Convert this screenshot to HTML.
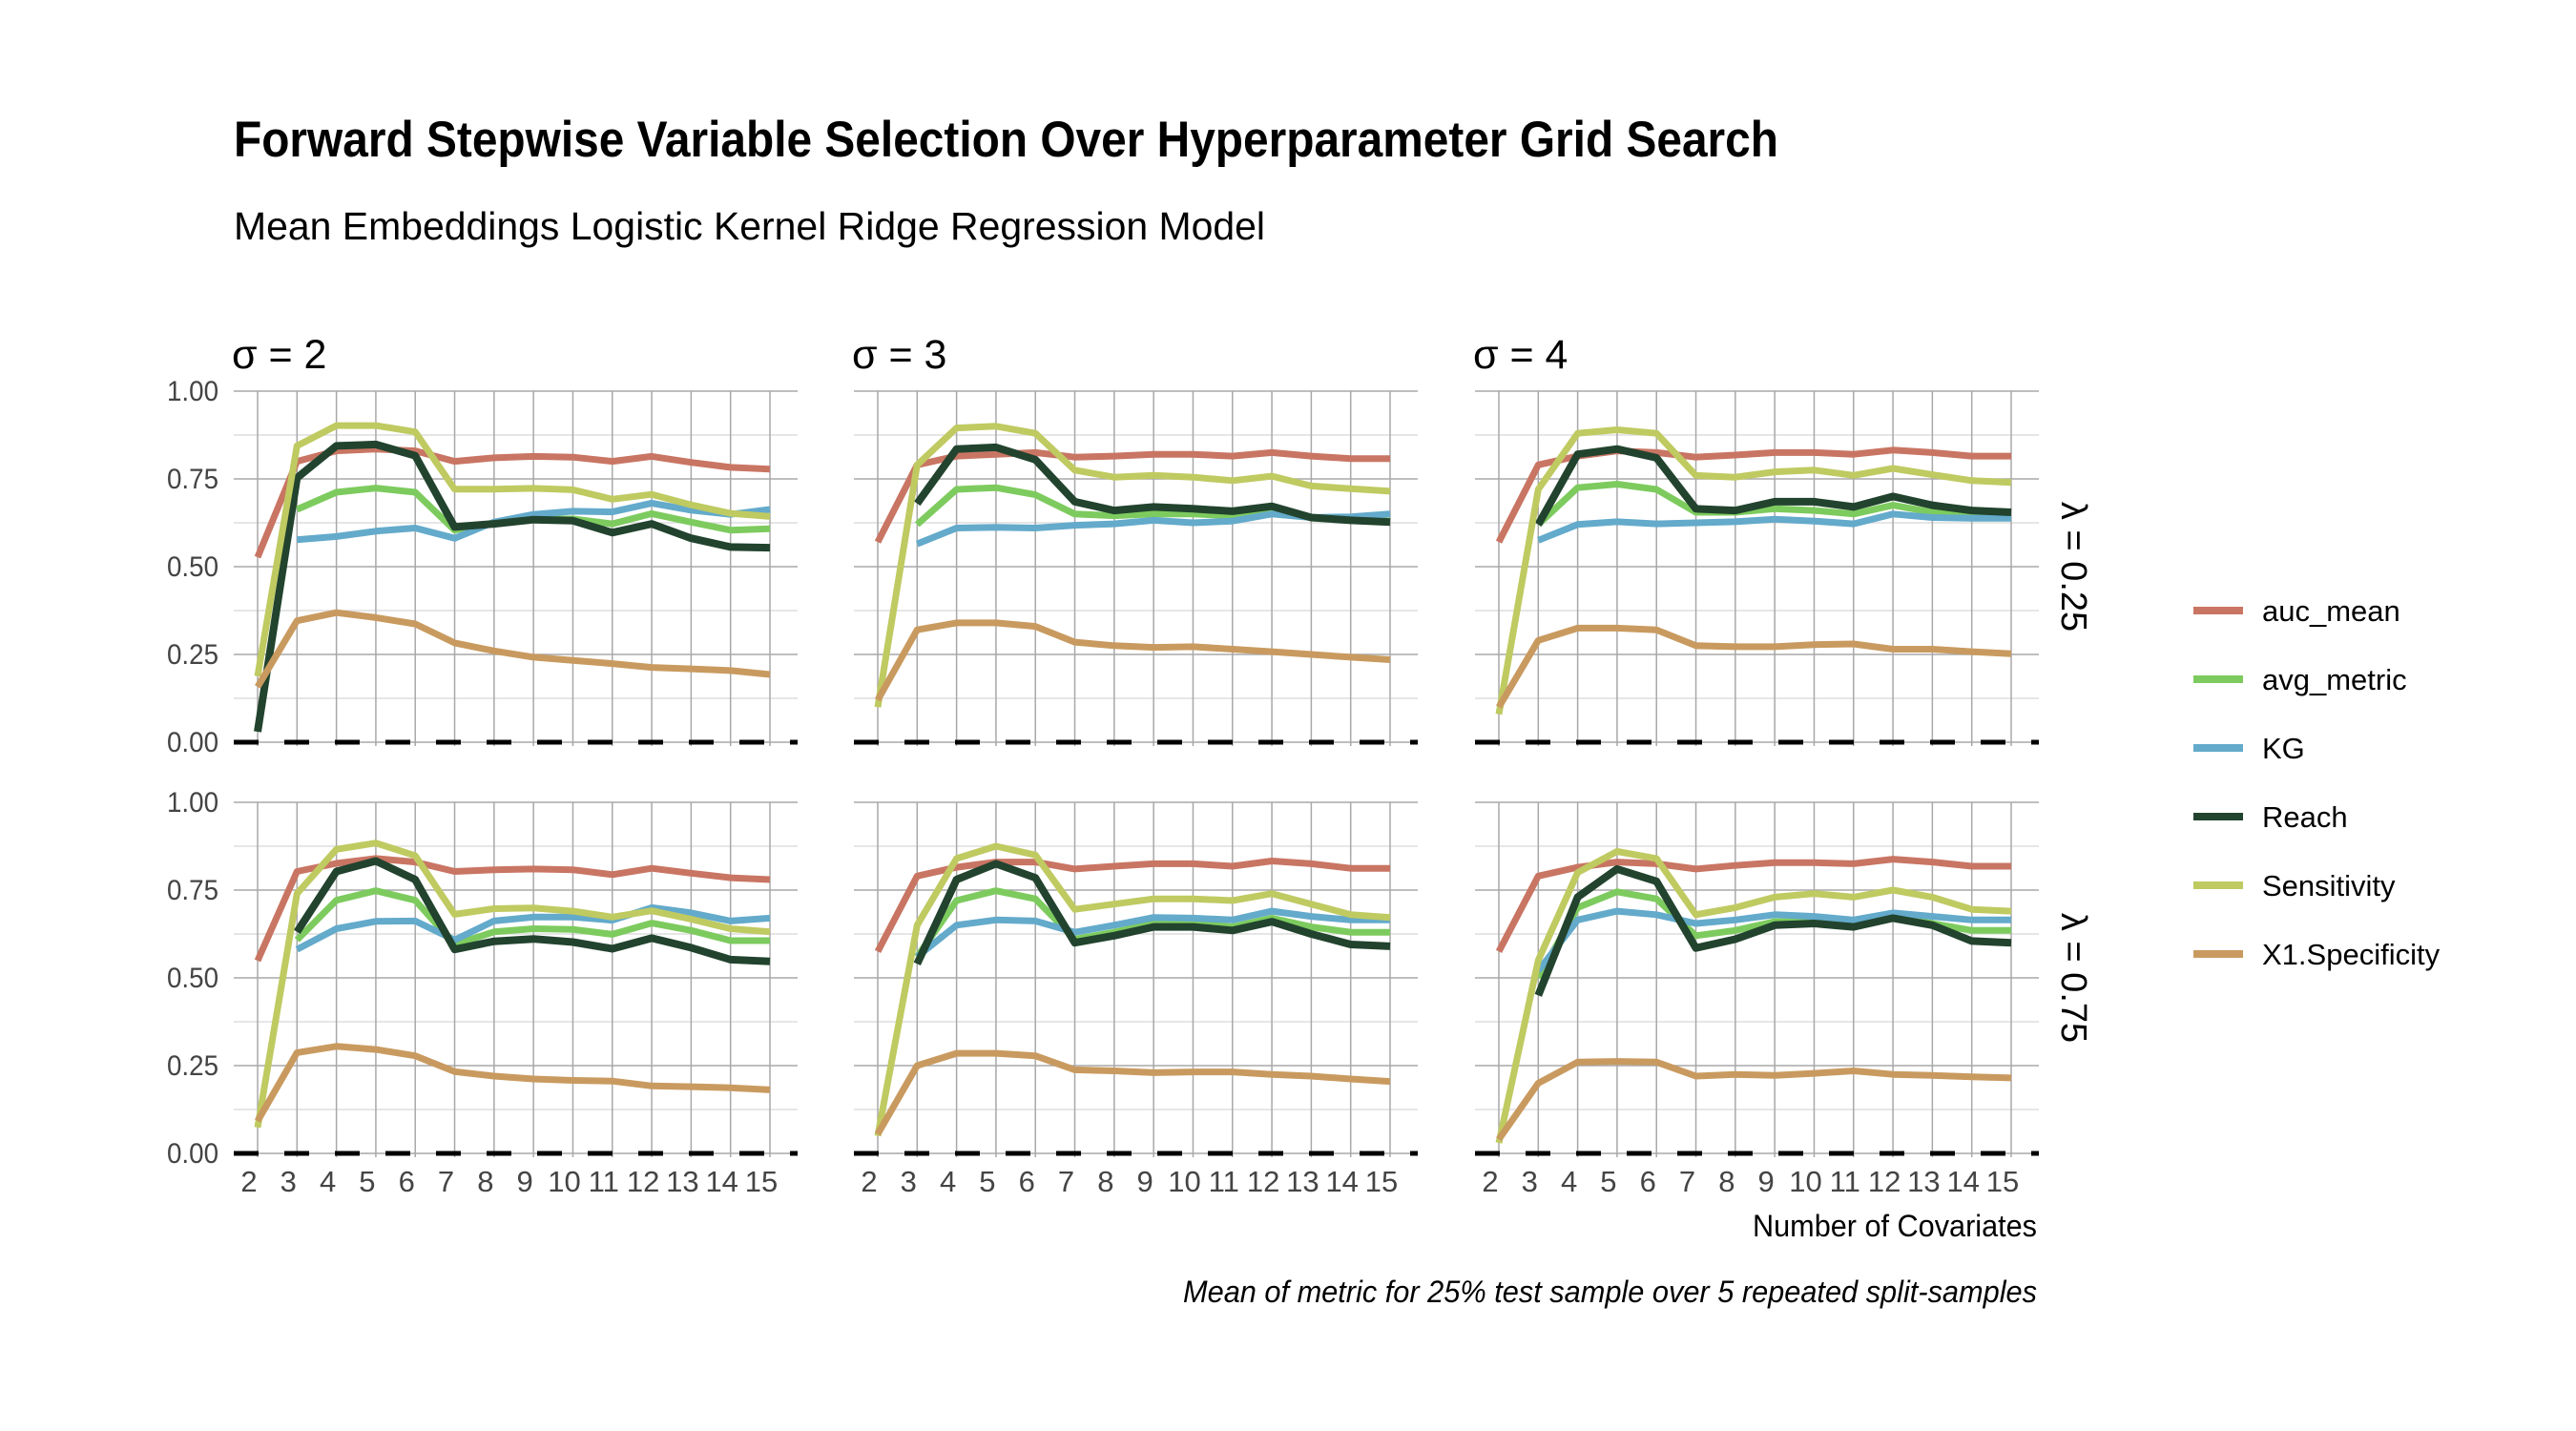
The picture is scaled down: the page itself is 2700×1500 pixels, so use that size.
<!DOCTYPE html>
<html><head><meta charset="utf-8"><style>
html,body{margin:0;padding:0;background:#fff}
svg{display:block}
text{font-family:"Liberation Sans Narrow","Liberation Sans",sans-serif}
</style></head><body>
<svg id="chart" width="2700" height="1500" viewBox="0 0 2700 1500" xmlns="http://www.w3.org/2000/svg">
<text x="245" y="164" font-size="53" font-weight="bold" fill="#000" textLength="1619" lengthAdjust="spacingAndGlyphs">Forward Stepwise Variable Selection Over Hyperparameter Grid Search</text>
<text x="245" y="251" font-size="41" fill="#000" textLength="1081" lengthAdjust="spacingAndGlyphs">Mean Embeddings Logistic Kernel Ridge Regression Model</text>
<text x="2135" y="1296" font-size="32" fill="#000" text-anchor="end" textLength="298" lengthAdjust="spacingAndGlyphs">Number of Covariates</text>
<text x="2135" y="1365" font-size="32" font-style="italic" fill="#000" text-anchor="end" textLength="895" lengthAdjust="spacingAndGlyphs">Mean of metric for 25% test sample over 5 repeated split-samples</text>
<g id="panels"></g>
<g id="legend"></g>
</svg>
<script>
const xCats = [2,3,4,5,6,7,8,9,10,11,12,13,14,15];
const yTicks = [0,0.25,0.5,0.75,1];
const yTickLabels = ["0.00","0.25","0.50","0.75","1.00"];
const seriesNames = ["auc_mean","avg_metric","KG","Reach","Sensitivity","X1.Specificity"];
const sigmaLabels = ["σ = 2","σ = 3","σ = 4"];
const lambdaLabels = ["λ = 0.25","λ = 0.75"];
const N = null;
const p1_auc  = [0.527,0.80,0.83,0.835,0.83,0.80,0.81,0.814,0.812,0.80,0.814,0.797,0.783,0.778];
const p1_avg  = [N,0.663,0.712,0.724,0.712,0.604,0.625,0.636,0.636,0.622,0.651,0.627,0.604,0.608];
const p1_kg   = [N,0.577,0.586,0.601,0.61,0.581,0.627,0.649,0.658,0.656,0.681,0.661,0.649,0.663];
const p1_reach= [0.03,0.753,0.844,0.848,0.816,0.613,0.622,0.634,0.631,0.597,0.622,0.581,0.556,0.554];
const p1_sens = [0.188,0.844,0.902,0.902,0.884,0.721,0.721,0.723,0.719,0.692,0.706,0.676,0.652,0.643];
const p1_spec = [0.158,0.346,0.369,0.355,0.337,0.283,0.26,0.242,0.233,0.224,0.213,0.209,0.204,0.193];
const p2_auc  = [0.57,0.79,0.815,0.82,0.825,0.812,0.815,0.82,0.82,0.815,0.825,0.815,0.808,0.808];
const p2_avg  = [N,0.62,0.72,0.725,0.705,0.65,0.645,0.65,0.65,0.645,0.655,0.64,0.635,0.63];
const p2_kg   = [N,0.565,0.61,0.612,0.61,0.618,0.622,0.632,0.625,0.63,0.65,0.64,0.642,0.65];
const p2_reach= [N,0.68,0.835,0.84,0.805,0.685,0.66,0.67,0.665,0.658,0.672,0.64,0.632,0.627];
const p2_sens = [0.1,0.79,0.895,0.9,0.88,0.775,0.755,0.76,0.755,0.745,0.758,0.73,0.722,0.715];
const p2_spec = [0.12,0.32,0.34,0.34,0.33,0.285,0.275,0.27,0.272,0.265,0.258,0.25,0.242,0.235];
const p3_auc  = [0.57,0.79,0.815,0.83,0.825,0.812,0.818,0.825,0.825,0.82,0.832,0.825,0.815,0.815];
const p3_avg  = [N,0.62,0.725,0.735,0.72,0.655,0.655,0.665,0.66,0.65,0.675,0.655,0.645,0.64];
const p3_kg   = [N,0.575,0.62,0.628,0.622,0.625,0.628,0.635,0.63,0.622,0.65,0.64,0.638,0.638];
const p3_reach= [N,0.62,0.82,0.835,0.81,0.665,0.66,0.685,0.685,0.67,0.7,0.675,0.66,0.655];
const p3_sens = [0.08,0.72,0.88,0.89,0.88,0.76,0.755,0.77,0.775,0.76,0.78,0.762,0.745,0.74];
const p3_spec = [0.1,0.29,0.325,0.325,0.32,0.275,0.272,0.272,0.278,0.28,0.265,0.265,0.258,0.252];
const p4_auc  = [0.549,0.803,0.826,0.84,0.83,0.803,0.808,0.81,0.808,0.794,0.812,0.798,0.785,0.78];
const p4_avg  = [N,0.608,0.721,0.748,0.721,0.595,0.631,0.64,0.638,0.624,0.656,0.635,0.606,0.606];
const p4_kg   = [N,0.581,0.64,0.661,0.662,0.608,0.662,0.673,0.673,0.664,0.7,0.685,0.662,0.67];
const p4_reach= [N,0.631,0.803,0.833,0.78,0.581,0.604,0.611,0.602,0.583,0.613,0.586,0.552,0.547];
const p4_sens = [0.074,0.74,0.866,0.884,0.848,0.681,0.697,0.699,0.69,0.673,0.691,0.667,0.64,0.631];
const p4_spec = [0.092,0.287,0.305,0.296,0.278,0.233,0.22,0.212,0.208,0.206,0.192,0.19,0.187,0.181];
const p5_auc  = [0.575,0.79,0.815,0.83,0.83,0.81,0.818,0.825,0.825,0.818,0.833,0.825,0.812,0.812];
const p5_avg  = [N,0.56,0.72,0.748,0.725,0.61,0.63,0.655,0.655,0.645,0.67,0.645,0.63,0.63];
const p5_kg   = [N,0.56,0.65,0.665,0.662,0.63,0.65,0.672,0.67,0.665,0.69,0.675,0.665,0.665];
const p5_reach= [N,0.54,0.78,0.825,0.785,0.6,0.62,0.645,0.645,0.635,0.66,0.625,0.595,0.59];
const p5_sens = [0.05,0.65,0.84,0.875,0.85,0.695,0.71,0.725,0.725,0.72,0.74,0.71,0.68,0.672];
const p5_spec = [0.055,0.25,0.285,0.285,0.278,0.238,0.235,0.23,0.232,0.232,0.225,0.22,0.212,0.205];
const p6_auc  = [0.575,0.79,0.815,0.83,0.825,0.81,0.82,0.828,0.828,0.825,0.838,0.83,0.818,0.818];
const p6_avg  = [N,0.5,0.7,0.745,0.725,0.62,0.635,0.66,0.66,0.65,0.675,0.655,0.635,0.635];
const p6_kg   = [N,0.52,0.665,0.69,0.68,0.655,0.665,0.68,0.675,0.665,0.685,0.675,0.665,0.665];
const p6_reach= [N,0.45,0.73,0.81,0.775,0.585,0.61,0.65,0.655,0.645,0.67,0.65,0.605,0.6];
const p6_sens = [0.03,0.55,0.8,0.86,0.84,0.68,0.7,0.73,0.74,0.73,0.75,0.73,0.695,0.69];
const p6_spec = [0.04,0.2,0.26,0.262,0.26,0.22,0.225,0.222,0.228,0.235,0.225,0.222,0.218,0.215];

const panelData = [
 [p1_auc,p1_avg,p1_kg,p1_reach,p1_sens,p1_spec],
 [p2_auc,p2_avg,p2_kg,p2_reach,p2_sens,p2_spec],
 [p3_auc,p3_avg,p3_kg,p3_reach,p3_sens,p3_spec],
 [p4_auc,p4_avg,p4_kg,p4_reach,p4_sens,p4_spec],
 [p5_auc,p5_avg,p5_kg,p5_reach,p5_sens,p5_spec],
 [p6_auc,p6_avg,p6_kg,p6_reach,p6_sens,p6_spec]
];
const colors = ["#c97563","#7dcb5e","#63aacb","#22432e","#bfca61","#c99a5f"];
const NS = "http://www.w3.org/2000/svg";
function mk(tag, attrs, parent){const e=document.createElementNS(NS,tag);for(const k in attrs)e.setAttribute(k,attrs[k]);parent.appendChild(e);return e;}
const colLeft=[245,895,1546], panelW=591, rowTop=[410,841], panelH=368;
const panels=document.getElementById('panels');
for(let r=0;r<2;r++){for(let c=0;c<3;c++){
  const L=colLeft[c], T=rowTop[r];
  const xs=v=>L+25+(v-2)*(537/13);
  const ys=v=>T+panelH*(1-v);
  const g=mk('g',{},panels);
  
  
  for(let k=0;k<=8;k++){const v=k/8;const ln=mk('line',{x1:L,x2:L+panelW,y1:ys(v),y2:ys(v),stroke:k%2?'#dedede':'#a8a8a8','stroke-width':1.5},g);
    }
  xCats.forEach(x=>{const ln=mk('line',{x1:xs(x),x2:xs(x),y1:T,y2:T+panelH+4,stroke:'#a8a8a8','stroke-width':1.5},g);
    });
  const d=mk('line',{x1:L,x2:L+panelW,y1:ys(0),y2:ys(0),stroke:'#000','stroke-width':5,'stroke-dasharray':'26 27'},g);
  
  if(c===0){yTicks.forEach((v,i)=>{const t=mk('text',{x:L-16,y:ys(v)+10,'font-size':30,fill:'#444','text-anchor':'end',textLength:54,lengthAdjust:'spacingAndGlyphs'},g);t.textContent=yTickLabels[i];
    });}
  if(r===1){xCats.forEach(x=>{const t=mk('text',{x:xs(x)-9,y:T+panelH+40,'font-size':31,fill:'#444','text-anchor':'middle'},g);t.textContent=x;
    });}
  if(r===0){const t=mk('text',{x:L-2,y:386,'font-size':43,fill:'#000'},g);t.textContent=sigmaLabels[c];
    }
  if(c===2){const cy=T+panelH/2;const t=mk('text',{x:0,y:0,'font-size':38,fill:'#000','text-anchor':'middle',transform:'translate(2161,'+cy+') rotate(90)'},g);t.textContent=lambdaLabels[r];
    }
  const pd=panelData[r*3+c];
  pd.forEach((vals,si)=>{let pts=[];vals.forEach((v,i)=>{if(v!==null)pts.push(xs(xCats[i]).toFixed(1)+','+ys(v).toFixed(1));});
    const pl=mk('polyline',{points:pts.join(' '),fill:'none',stroke:colors[si],'stroke-width':si===3?8:7,'stroke-linejoin':'round'},g);
    });
}}
const lg=document.getElementById('legend');
seriesNames.forEach((n,i)=>{const y=640+i*72;
  const l=mk('line',{x1:2299,x2:2351,y1:y,y2:y,stroke:colors[i],'stroke-width':8},lg);
  
  const t=mk('text',{x:2371,y:y+11,'font-size':31,fill:'#000'},lg);t.textContent=n;
  });
</script>
</body></html>
